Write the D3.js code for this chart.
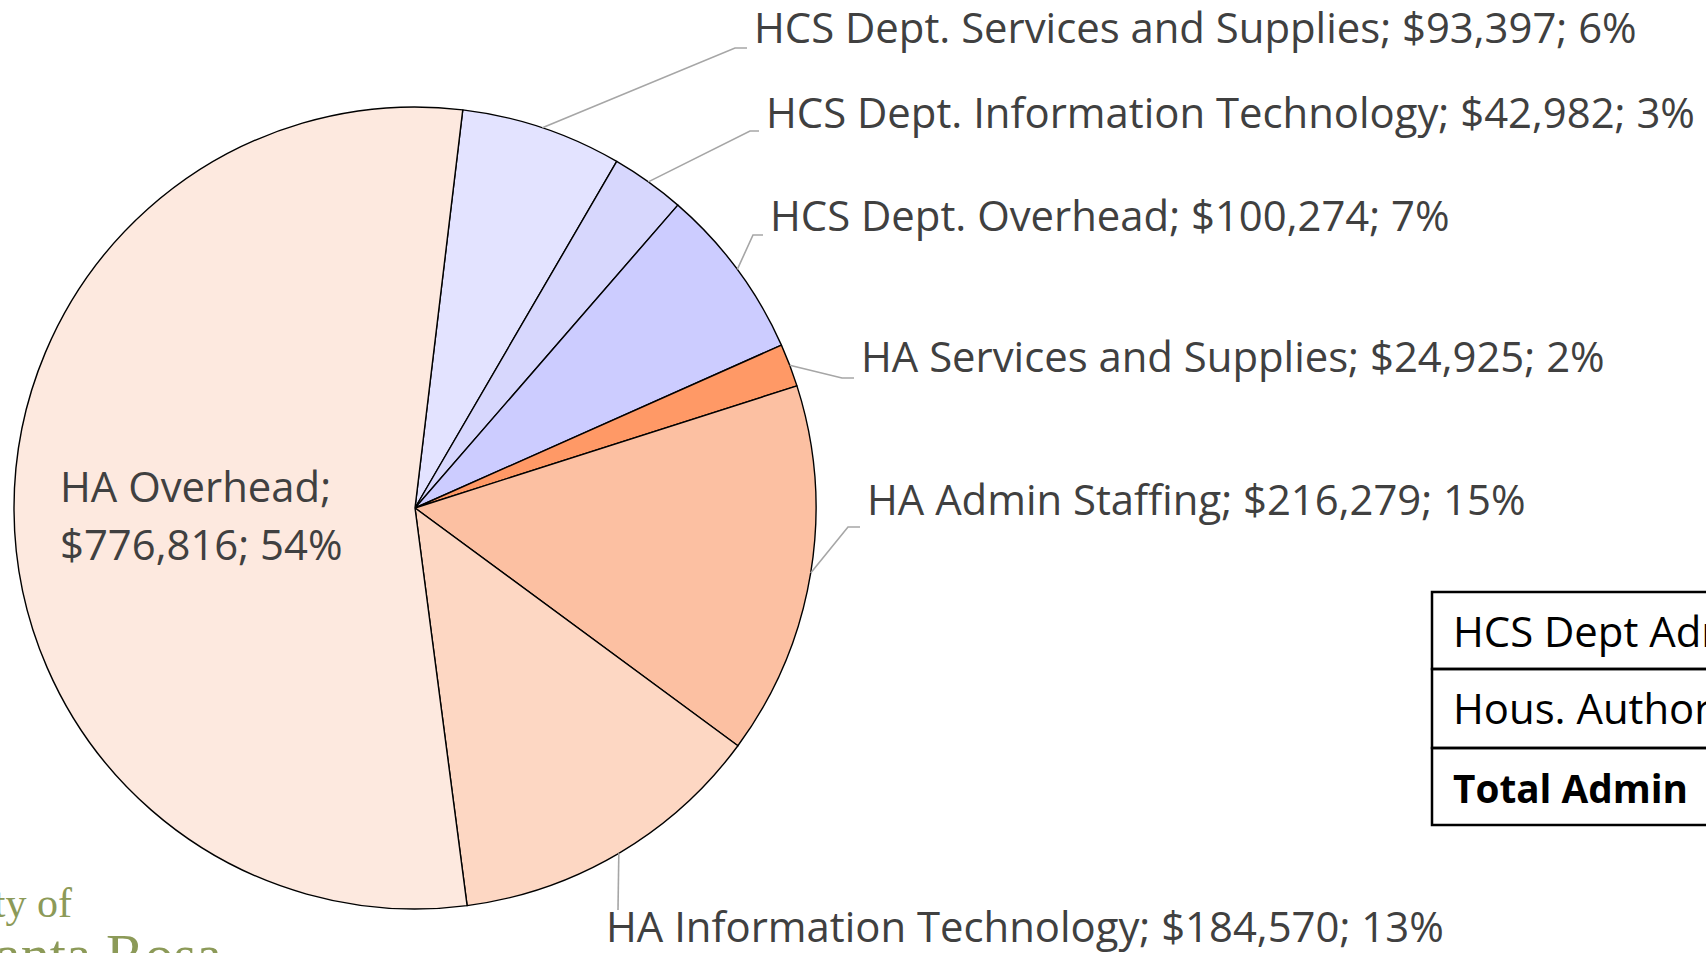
<!DOCTYPE html>
<html>
<head>
<meta charset="utf-8">
<script src="https://cdn.jsdelivr.net/npm/d3@7"></script>
<style>
  body { margin: 0; background: #fff; overflow: hidden; }
  svg { display: block; }
</style>
</head>
<body>
<svg></svg>
<script>
var width = 1706;
var height = 953;

var categories = [
  "HCS Dept. Services and Supplies",
  "HCS Dept. Information Technology",
  "HCS Dept. Overhead",
  "HA Services and Supplies",
  "HA Admin Staffing",
  "HA Information Technology",
  "HA Overhead"
];
var amounts = [93397, 42982, 100274, 24925, 216279, 184570, 776816];
var tableRows = ["HCS Dept Admin", "Hous. Authority", "Total Admin"];

var sliceColors = ["#e3e3ff", "#d7d7fd", "#ccccff", "#ff9966", "#fcc0a2", "#fdd7c3", "#fde9df"];

// label spots (left x, baseline y) and leader bends
var labelAt = [[754, 43], [766, 128], [770, 231], [861, 372], [867, 515], [606, 942], [60, 502]];
var bendAt = [[735, 48], [750, 131], [753, 235], [842, 378], [848, 527], [618, 910], null];

var cx = 415, cy = 508, radius = 401;
var start = 6.84 * Math.PI / 180;

var total = d3.sum(amounts);
var money = d3.format("$,");
var pct = d3.format(".0%");

var data = categories.map(function(c, i) {
  return { name: c, value: amounts[i], color: sliceColors[i] };
});

var svg = d3.select('svg')
  .attr('width', width)
  .attr('height', height);

var pie = d3.pie()
  .sort(null)
  .value(d => d.value)
  .startAngle(start)
  .endAngle(start + 2 * Math.PI);

var arc = d3.arc()
  .innerRadius(0)
  .outerRadius(radius);

var g = svg.append('g')
  .attr('transform', "translate(" + cx + "," + cy + ")");

var arcs = pie(data);

g.selectAll('path')
  .data(arcs)
  .enter()
  .append('path')
    .attr('d', arc)
    .attr('fill', d => d.data.color)
    .attr('stroke', '#000')
    .attr('stroke-width', 1.4)
    .attr('stroke-linejoin', 'round');

// leader lines: from slice edge at mid angle to the bend, then a short run to the label
arcs.forEach(function(a, i) {
  var b = bendAt[i];
  if (!b) return;
  var mid = (a.startAngle + a.endAngle) / 2;
  var ex = cx + radius * Math.sin(mid);
  var ey = cy - radius * Math.cos(mid);
  var pts = [[ex, ey], b];
  if (i !== 5) pts.push([labelAt[i][0] - 7, b[1]]);
  svg.append('path')
    .attr('d', d3.line()(pts))
    .attr('fill', 'none')
    .attr('stroke', '#a6a6a6')
    .attr('stroke-width', 1.6);
});

var labels = svg.append('g')
  .attr('font-family', "'Open Sans', sans-serif")
  .attr('fill', '#404040');

arcs.forEach(function(a, i) {
  var d = a.data;
  var t = labels.append('text')
    .attr('x', labelAt[i][0])
    .attr('y', labelAt[i][1]);
  if (i === 6) {
    t.append('tspan').attr('x', labelAt[i][0]).text(d.name + ";");
    t.append('tspan').attr('x', labelAt[i][0]).attr('dy', 58)
      .text(money(d.value) + "; " + pct(d.value / total));
  } else {
    t.text(d.name + "; " + money(d.value) + "; " + pct(d.value / total));
  }
});

// fit the label size so the first label spans what it spans in the reference
labels.attr('font-size', 40);
var w0 = labels.select('text').node().getComputedTextLength();
var fontSize = 40 * 883 / w0;
labels.attr('font-size', fontSize);

// summary table, cut off by the right edge
var rowTops = [592, 669, 748, 825];
var table = svg.append('g');
tableRows.forEach(function(r, i) {
  table.append('rect')
    .attr('x', 1432)
    .attr('y', rowTops[i])
    .attr('width', 600)
    .attr('height', rowTops[i + 1] - rowTops[i])
    .attr('fill', 'none')
    .attr('stroke', '#000')
    .attr('stroke-width', 2.5);
  var t = table.append('text')
    .attr('x', 1453)
    .attr('y', rowTops[i] + 55)
    .attr('font-family', "'Open Sans', sans-serif")
    .attr('font-size', fontSize)
    .attr('font-weight', i === 2 ? 'bold' : 'normal')
    .attr('fill', '#000')
    .text(r);
  if (i === 2) {
    // bold row is narrower in the reference
    var bw = t.node().getComputedTextLength();
    t.attr('font-size', fontSize * 235 / bw);
  }
});

// city logo in the bottom-left corner, mostly off the page
svg.append('text')
  .attr('x', 72)
  .attr('y', 917)
  .attr('text-anchor', 'end')
  .attr('font-family', "'Liberation Serif', serif")
  .attr('font-size', 42)
  .attr('fill', '#8c9a58')
  .text('City of');

svg.append('text')
  .attr('x', 222)
  .attr('y', 974)
  .attr('text-anchor', 'end')
  .attr('font-family', "'Liberation Serif', serif")
  .attr('font-size', 58)
  .attr('fill', '#8c9a58')
  .text('Santa Rosa');
</script>
</body>
</html>
